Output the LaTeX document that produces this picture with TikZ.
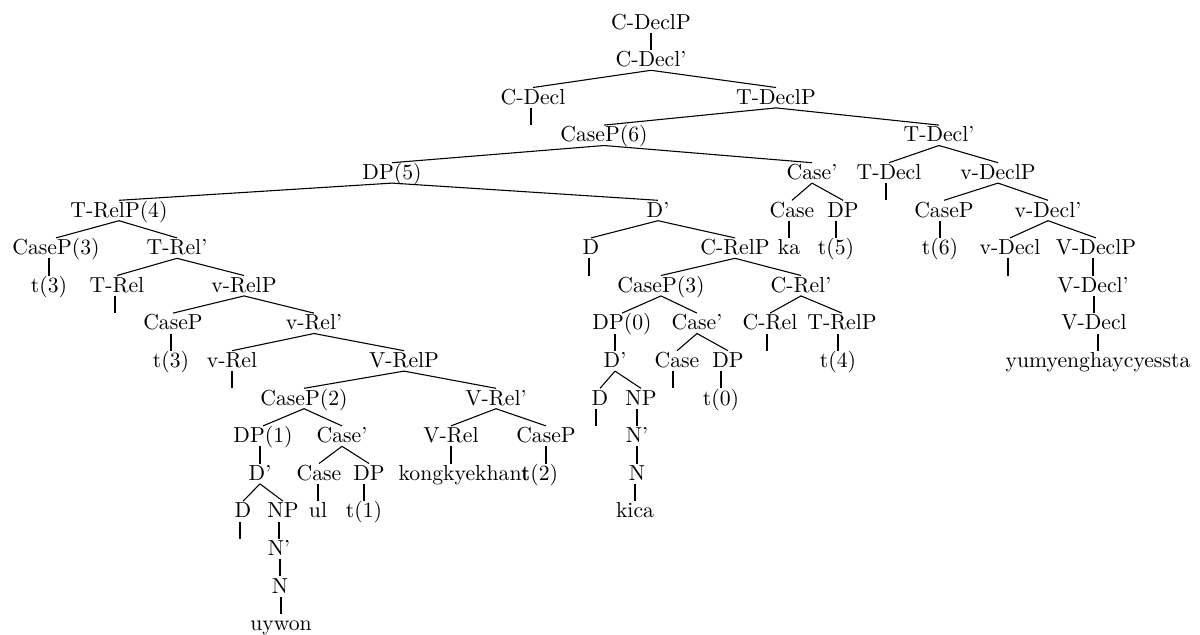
\documentclass[tikz,border=0pt]{standalone}
\begin{document}
\begin{tikzpicture}[x=0.4608pt,y=-0.4608pt,
  lab/.style={inner sep=0.5pt,text height=7pt,text depth=1pt},
  br/.style={line width=0.5pt}]
\useasboundingbox (0,0) rectangle (1200,634);
% row 0
\node[lab] (CDP) at (651,22.5) {C-DeclP};
% row 1
\node[lab] (CDb) at (651,60.1) {C-Decl'};
% row 2
\node[lab] (CD) at (533,97.7) {C-Decl};
\node[lab] (TDP) at (776,97.7) {T-DeclP};
% row 3
\node[lab] (e1) at (531,135.3) {};
\node[lab] (CP6) at (604,135.3) {CaseP(6)};
\node[lab] (TDb) at (939,135.3) {T-Decl'};
% row 4
\node[lab] (DP5) at (392,172.9) {DP(5)};
\node[lab] (Cb1) at (812,172.9) {Case'};
\node[lab] (TD) at (889,172.9) {T-Decl};
\node[lab] (vDP) at (998,172.9) {v-DeclP};
% row 5
\node[lab] (TRP4) at (119,210.5) {T-RelP(4)};
\node[lab] (Db1) at (658,210.5) {D'};
\node[lab] (Ca1) at (792,210.5) {Case};
\node[lab] (DPa) at (843,210.5) {DP};
\node[lab] (e2) at (886,210.5) {};
\node[lab] (CPa) at (944,210.5) {CaseP};
\node[lab] (vDb) at (1048,210.5) {v-Decl'};
% row 6
\node[lab] (CP3) at (56,248.1) {CaseP(3)};
\node[lab] (TRb) at (177,248.1) {T-Rel'};
\node[lab] (D1) at (591,248.1) {D};
\node[lab] (CRP) at (735,248.1) {C-RelP};
\node[lab] (ka) at (789,248.1) {ka};
\node[lab] (t5) at (836,248.1) {t(5)};
\node[lab] (t6) at (940,248.1) {t(6)};
\node[lab] (vD) at (1010,248.1) {v-Decl};
\node[lab] (VDP) at (1096,248.1) {V-DeclP};
% row 7
\node[lab] (t3a) at (49,285.7) {t(3)};
\node[lab] (TR) at (117,285.7) {T-Rel};
\node[lab] (vRP) at (244,285.7) {v-RelP};
\node[lab] (e3) at (589,285.7) {};
\node[lab] (CP3b) at (661,285.7) {CaseP(3)};
\node[lab] (CRb) at (801,285.7) {C-Rel'};
\node[lab] (e4) at (1008,285.7) {};
\node[lab] (VDb) at (1093,285.7) {V-Decl'};
% row 8
\node[lab] (e5) at (115,323.3) {};
\node[lab] (CPb) at (173,323.3) {CaseP};
\node[lab] (vRb) at (314,323.3) {v-Rel'};
\node[lab] (DP0) at (622,323.3) {DP(0)};
\node[lab] (Cb2) at (697,323.3) {Case'};
\node[lab] (CR) at (770,323.3) {C-Rel};
\node[lab] (TRP) at (842,323.3) {T-RelP};
\node[lab] (VD) at (1094,323.3) {V-Decl};
% row 9
\node[lab] (t3b) at (171,360.9) {t(3)};
\node[lab] (vR) at (232,360.9) {v-Rel};
\node[lab] (VRP) at (404,360.9) {V-RelP};
\node[lab] (Db2) at (615,360.9) {D'};
\node[lab] (Ca2) at (677,360.9) {Case};
\node[lab] (DPb) at (728,360.9) {DP};
\node[lab] (e6) at (767,360.9) {};
\node[lab] (t4) at (838,360.9) {t(4)};
\node[lab] (yum) at (1098,360.9) {yumyenghaycyessta};
% row 10
\node[lab] (e7) at (232,398.5) {};
\node[lab] (CP2) at (304,398.5) {CaseP(2)};
\node[lab] (VRb) at (496,398.5) {V-Rel'};
\node[lab] (D2) at (600,398.5) {D};
\node[lab] (NP1) at (641,398.5) {NP};
\node[lab] (e8) at (673,398.5) {};
\node[lab] (t0) at (721,398.5) {t(0)};
% row 11
\node[lab] (DP1) at (263,436.1) {DP(1)};
\node[lab] (Cb3) at (342,436.1) {Case'};
\node[lab] (VR) at (451,436.1) {V-Rel};
\node[lab] (CPc) at (546,436.1) {CaseP};
\node[lab] (e9) at (596,436.1) {};
\node[lab] (Nb1) at (637,436.1) {N'};
% row 12
\node[lab] (Db3) at (260,473.7) {D'};
\node[lab] (Ca3) at (319,473.7) {Case};
\node[lab] (DPc) at (369,473.7) {DP};
\node[lab] (kong) at (464,473.7) {kongkyekhant};
\node[lab] (t2) at (540,473.7) {t(2)};
\node[lab] (N1) at (637,473.7) {N};
% row 13
\node[lab] (D3) at (243,511.3) {D};
\node[lab] (NP2) at (283,511.3) {NP};
\node[lab] (ul) at (318,511.3) {ul};
\node[lab] (t1) at (364,511.3) {t(1)};
\node[lab] (kica) at (635,511.3) {kica};
% row 14
\node[lab] (e10) at (240,548.9) {};
\node[lab] (Nb2) at (279,548.9) {N'};
% row 15
\node[lab] (N2) at (280,586.5) {N};
% row 16
\node[lab] (uy) at (281,624.1) {uywon};
% binary branches
\foreach \p/\c in {CDb/CD,CDb/TDP,TDP/CP6,TDP/TDb,CP6/DP5,CP6/Cb1,TDb/TD,TDb/vDP,
  DP5/TRP4,DP5/Db1,Cb1/Ca1,Cb1/DPa,vDP/CPa,vDP/vDb,TRP4/CP3,TRP4/TRb,Db1/D1,Db1/CRP,
  vDb/vD,vDb/VDP,TRb/TR,TRb/vRP,CRP/CP3b,CRP/CRb,vRP/CPb,vRP/vRb,CP3b/DP0,CP3b/Cb2,
  CRb/CR,CRb/TRP,vRb/vR,vRb/VRP,Cb2/Ca2,Cb2/DPb,VRP/CP2,VRP/VRb,Db2/D2,Db2/NP1,
  CP2/DP1,CP2/Cb3,VRb/VR,VRb/CPc,Cb3/Ca3,Cb3/DPc,Db3/D3,Db3/NP2}
  \draw[br] (\p.south) -- (\c.north);
% unary branches (vertical, at the child's x)
\foreach \p/\c in {CDP/CDb,CD/e1,TD/e2,Ca1/ka,DPa/t5,CPa/t6,CP3/t3a,D1/e3,vD/e4,
  VDP/VDb,TR/e5,VDb/VD,CPb/t3b,DP0/Db2,CR/e6,TRP/t4,VD/yum,vR/e7,Ca2/e8,DPb/t0,
  D2/e9,NP1/Nb1,DP1/Db3,Nb1/N1,Ca3/ul,DPc/t1,N1/kica,D3/e10,
  NP2/Nb2,Nb2/N2,N2/uy}
  \draw[br] (\c.north |- \p.south) -- (\c.north);
% unary branches (vertical, at the parent's x)
\foreach \p/\c in {VR/kong,CPc/t2}
  \draw[br] (\p.south) -- (\p.south |- \c.north);
\end{tikzpicture}
\end{document}
